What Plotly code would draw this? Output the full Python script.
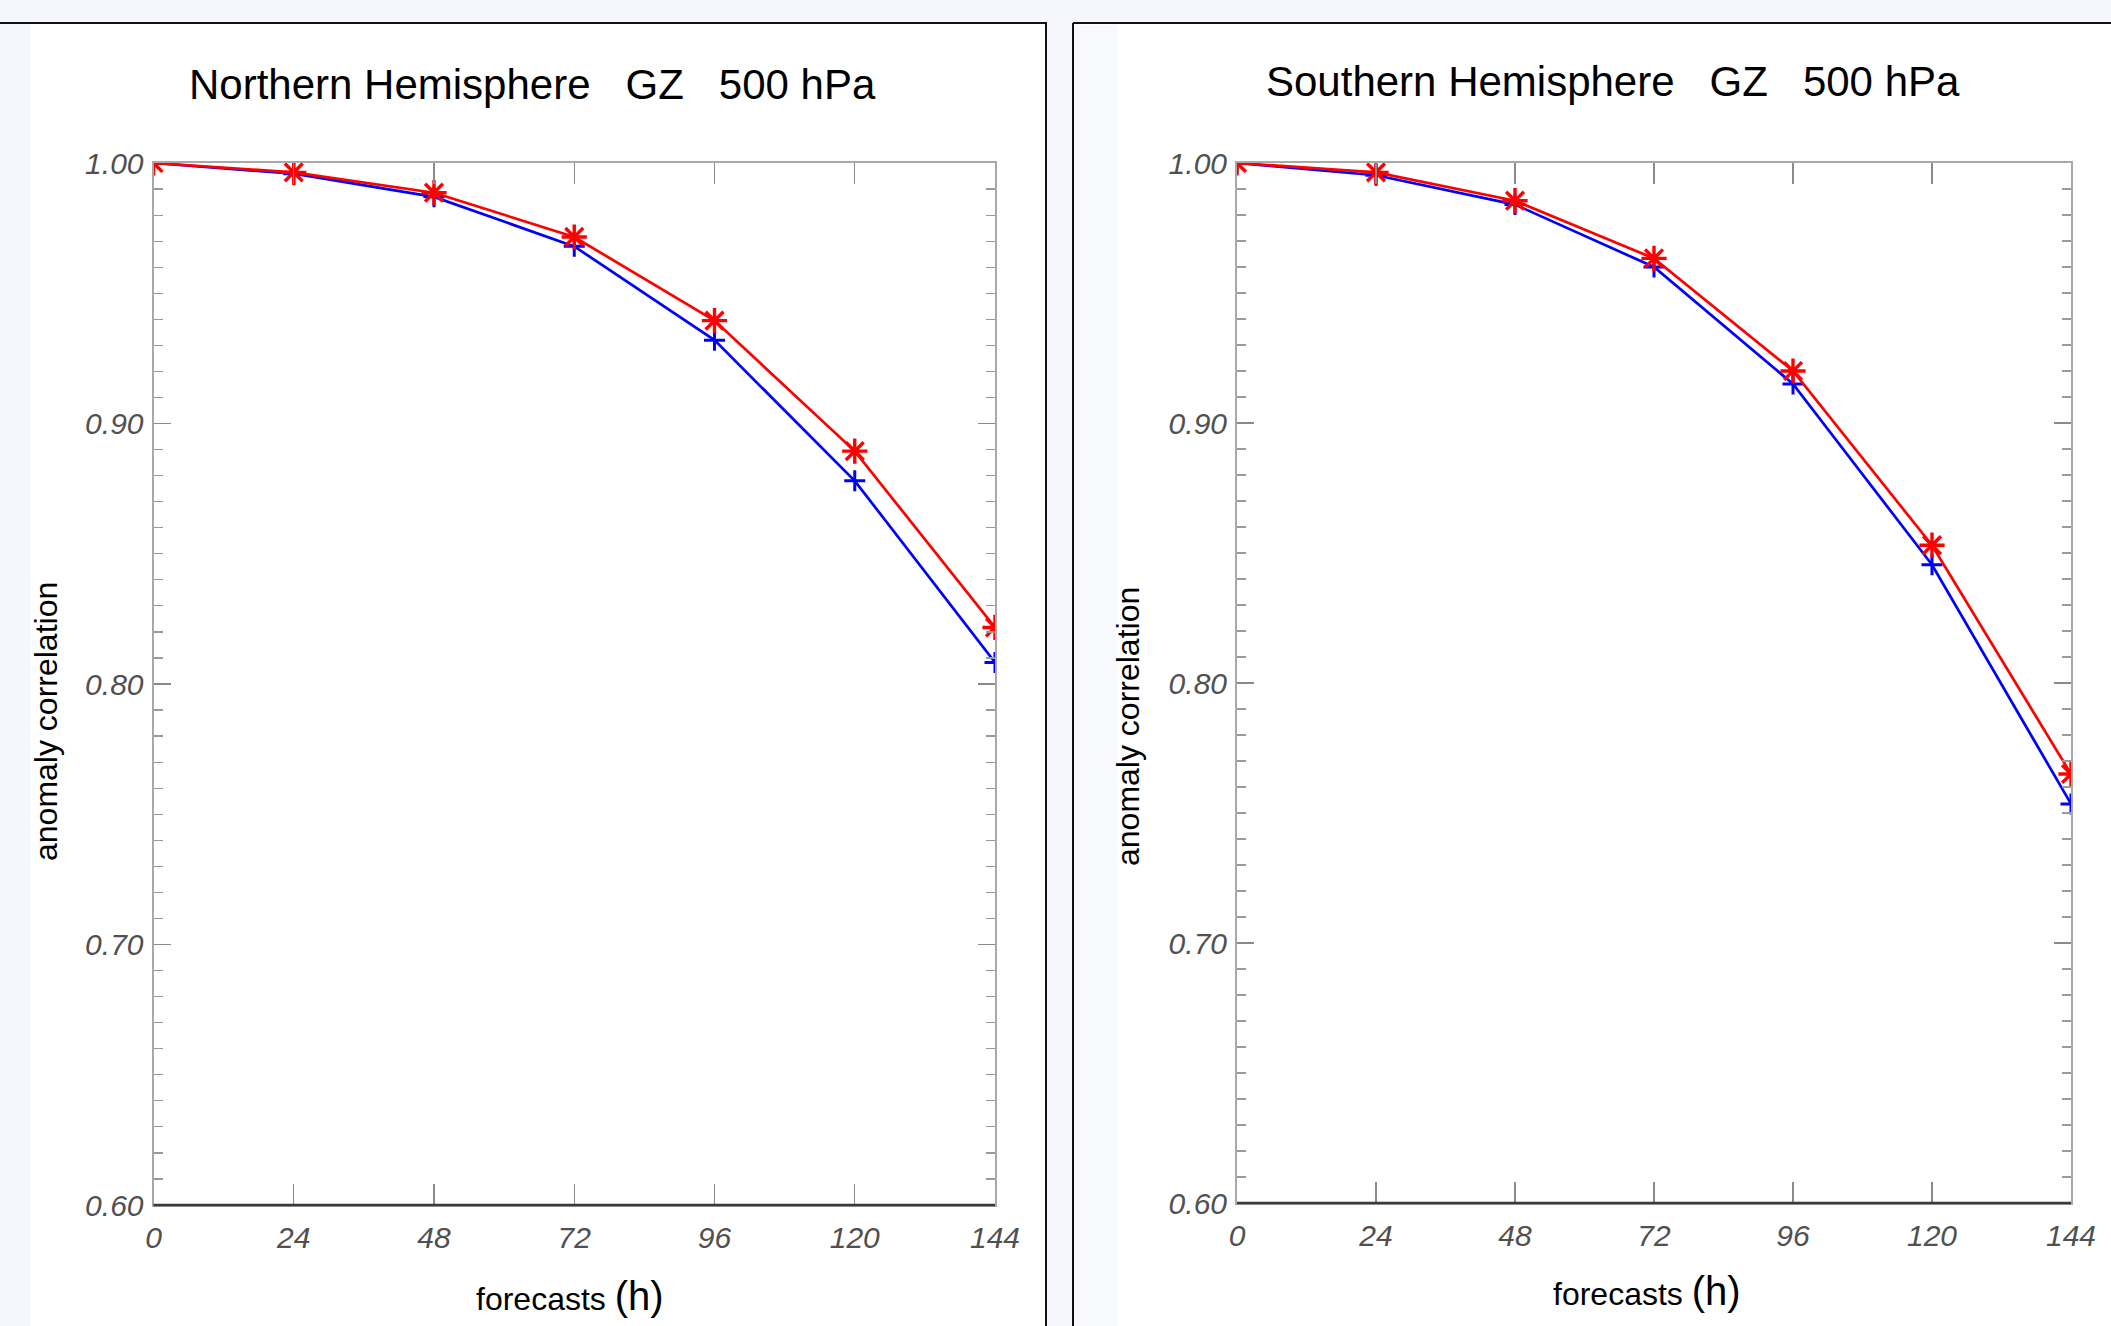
import plotly.graph_objects as go

# ---- data ----
hours = [0, 24, 48, 72, 96, 120, 144]
nh_red = [1.000, 0.9964, 0.9886, 0.9716, 0.9395, 0.8894, 0.8217]
nh_blue = [1.000, 0.9959, 0.9870, 0.9680, 0.9320, 0.8780, 0.8083]
sh_red = [1.000, 0.9964, 0.9855, 0.9633, 0.9200, 0.8530, 0.7650]
sh_blue = [1.000, 0.9953, 0.9840, 0.9600, 0.9150, 0.8455, 0.7535]
y_ticks = [0.60, 0.70, 0.80, 0.90, 1.00]
x_ticks = [0, 24, 48, 72, 96, 120, 144]
titles = ["Northern Hemisphere\u00a0\u00a0\u00a0GZ\u00a0\u00a0\u00a0500 hPa",
          "Southern Hemisphere\u00a0\u00a0\u00a0GZ\u00a0\u00a0\u00a0500 hPa"]

W, H = 2111, 1326
FONT = "Liberation Sans, Arial, sans-serif"
RED = "#ff0000"
BLUE = "#0000ff"

def px(x):
    return x / W

def py(y):
    return 1 - y / H

fig = go.Figure()

panels = [
    dict(red=nh_red, blue=nh_blue, xa="x", ya="y",
         xdom=[px(153.5), px(995)], ydom=[py(1205), py(163)]),
    dict(red=sh_red, blue=sh_blue, xa="x2", ya="y2",
         xdom=[px(1237), px(2071)], ydom=[py(1203), py(163)]),
]

for p in panels:
    fig.add_trace(go.Scatter(
        x=hours, y=p["blue"], xaxis=p["xa"], yaxis=p["ya"], mode="lines+markers",
        line=dict(color=BLUE, width=2.7),
        marker=dict(symbol="cross-thin-open", size=15, line=dict(color=BLUE, width=3)),
        showlegend=False, hoverinfo="skip"))
    fig.add_trace(go.Scatter(
        x=hours, y=p["red"], xaxis=p["xa"], yaxis=p["ya"], mode="lines+markers",
        line=dict(color=RED, width=2.7),
        marker=dict(symbol="asterisk-open", size=21, line=dict(color=RED, width=3.4)),
        showlegend=False, hoverinfo="skip"))

tickfont = dict(family=FONT, size=30, color="#505050", style="italic")
axis_common_x = dict(
    range=[0, 144], tickvals=x_ticks, ticktext=[str(v) for v in x_ticks],
    ticks="inside", ticklen=21, tickwidth=1.3, tickcolor="#8a8a8a",
    showline=True, linecolor="#a8a8a8", linewidth=2, mirror="ticks",
    showgrid=False, zeroline=False, tickfont=tickfont, ticklabelstandoff=5,
)
axis_common_y = dict(
    range=[0.6, 1.0], tickvals=y_ticks, ticktext=["%.2f" % v for v in y_ticks],
    ticks="inside", ticklen=17, tickwidth=1.3, tickcolor="#8a8a8a",
    minor=dict(dtick=0.01, ticks="inside", ticklen=9, tickwidth=1.2, tickcolor="#9a9a9a"),
    showline=True, linecolor="#a8a8a8", linewidth=2, mirror="ticks",
    showgrid=False, zeroline=False, tickfont=tickfont, ticklabelstandoff=2,
)

fig.update_layout(
    width=W, height=H, autosize=False,
    margin=dict(l=0, r=0, t=0, b=0, pad=0, autoexpand=False),
    paper_bgcolor="#f5f7fc", plot_bgcolor="white",
    xaxis=dict(domain=panels[0]["xdom"], anchor="y", **axis_common_x),
    yaxis=dict(domain=panels[0]["ydom"], anchor="x", **axis_common_y),
    xaxis2=dict(domain=panels[1]["xdom"], anchor="y2", **axis_common_x),
    yaxis2=dict(domain=panels[1]["ydom"], anchor="x2", **axis_common_y),
)

shapes = [
    # panel backgrounds
    dict(type="rect", xref="paper", yref="paper", x0=px(30), x1=px(1046), y0=0, y1=py(23),
         fillcolor="white", line=dict(width=0), layer="below"),
    dict(type="rect", xref="paper", yref="paper", x0=px(1073), x1=1, y0=0, y1=py(23),
         fillcolor="white", line=dict(width=0), layer="below"),
    dict(type="rect", xref="paper", yref="paper", x0=px(1075), x1=px(1117), y0=0, y1=py(25),
         fillcolor="#f7f9fd", line=dict(width=0), layer="below"),
    # panel borders
    dict(type="line", xref="paper", yref="paper", x0=0, x1=px(1047), y0=py(23), y1=py(23),
         line=dict(color="#111111", width=2)),
    dict(type="line", xref="paper", yref="paper", x0=px(1046), x1=px(1046), y0=0, y1=py(23),
         line=dict(color="#111111", width=2)),
    dict(type="line", xref="paper", yref="paper", x0=px(1073), x1=1, y0=py(23), y1=py(23),
         line=dict(color="#111111", width=2)),
    dict(type="line", xref="paper", yref="paper", x0=px(1073), x1=px(1073), y0=0, y1=py(23),
         line=dict(color="#111111", width=2)),
]
# darker bottom axis lines
for xa, ya in [("x", "y"), ("x2", "y2")]:
    shapes.append(dict(type="line", xref=f"{xa} domain", yref=f"{ya} domain",
                       x0=0, x1=1, y0=0, y1=0, line=dict(color="#3a3a3a", width=2.5)))
fig.update_layout(shapes=shapes)

annotations = [
    dict(text=titles[0], x=px(532), y=py(85), font=dict(family=FONT, size=42, color="black")),
    dict(text=titles[1], x=px(1613), y=py(81), font=dict(family=FONT, size=42, color="black")),
    dict(text="forecasts <span style='font-size:40px'>(h)</span>", x=px(570), y=py(1296),
         font=dict(family=FONT, size=32, color="black")),
    dict(text="forecasts <span style='font-size:40px'>(h)</span>", x=px(1647), y=py(1291),
         font=dict(family=FONT, size=32, color="black")),
    dict(text="anomaly correlation", x=px(46), y=py(722), textangle=-90,
         font=dict(family=FONT, size=32, color="black")),
    dict(text="anomaly correlation", x=px(1128), y=py(727), textangle=-90,
         font=dict(family=FONT, size=32, color="black")),
]
for a in annotations:
    a.update(xref="paper", yref="paper", showarrow=False, xanchor="center", yanchor="middle")
fig.update_layout(annotations=annotations)

post = ("document.body.style.margin='0';"
        "document.body.style.padding='0';"
        "document.body.style.overflow='hidden';"
        "document.documentElement.style.overflow='hidden';")
fig.write_html("out.html", post_script=post,
               config={"displayModeBar": False, "responsive": False, "staticPlot": True})
